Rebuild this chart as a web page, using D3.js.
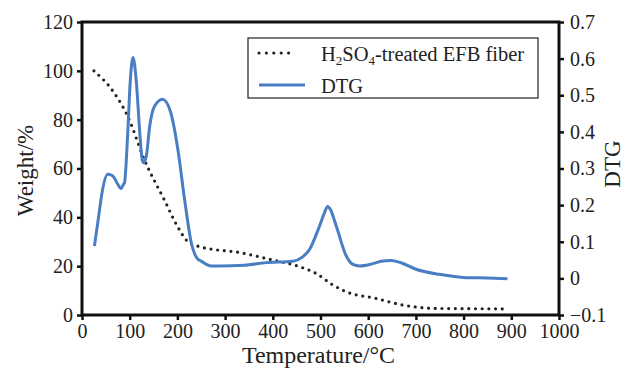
<!DOCTYPE html>
<html>
<head>
<meta charset="utf-8">
<script src="https://cdn.jsdelivr.net/npm/d3@7"></script>
<style>
body { margin: 0; background: #fff; }
svg text { font-family: "Liberation Serif", "Times New Roman", serif; fill: #222; }
</style>
</head>
<body>
<svg width="625" height="374"></svg>
<script>
// weight curve (TG)
var tgTemp = [25, 68, 96, 131, 173, 201, 222, 243, 285, 316, 400, 456, 491, 526, 554, 616, 672, 742, 800, 890];
var tgWeight = [100, 90.8, 81.3, 63.5, 47, 36, 30, 28.2, 26.6, 26, 22.5, 19.8, 17, 12.3, 9.5, 6.8, 4.1, 2.7, 2.6, 2.5];

// DTG curve
var dtgTemp = [26, 35, 42, 54, 64, 75, 82, 87, 89, 96, 101, 107, 114, 121, 126, 129, 135, 142, 152, 169, 186, 201, 215, 229, 243, 250, 271, 289, 340, 386, 442, 462, 477, 498, 508, 515, 520, 533, 554, 568, 582, 603, 617, 627, 648, 670, 700, 749, 805, 850, 892];
var dtgValue = [0.088, 0.17, 0.234, 0.284, 0.28, 0.257, 0.245, 0.257, 0.26, 0.40, 0.535, 0.603, 0.535, 0.40, 0.325, 0.316, 0.335, 0.416, 0.47, 0.489, 0.453, 0.352, 0.216, 0.098, 0.052, 0.047, 0.034, 0.034, 0.036, 0.043, 0.047, 0.058, 0.079, 0.143, 0.178, 0.196, 0.19, 0.143, 0.061, 0.038, 0.034, 0.038, 0.043, 0.047, 0.049, 0.042, 0.025, 0.011, 0.002, 0.001, -0.001];

var xTicks = [0, 100, 200, 300, 400, 500, 600, 700, 800, 900, 1000];
var yTicks = [0, 20, 40, 60, 80, 100, 120];
var y2Ticks = [-0.1, 0, 0.1, 0.2, 0.3, 0.4, 0.5, 0.6, 0.7];

var svg = d3.select("svg");
var mLeft = 82, mRight = 559, mTop = 22, mBottom = 315;
var blue = "#4a7ec3";

var x = d3.scaleLinear().domain([0, 1000]).range([mLeft, mRight]);
var y = d3.scaleLinear().domain([0, 120]).range([mBottom, mTop]);
var y2 = d3.scaleLinear().domain([-0.1, 0.7]).range([mBottom, mTop]);

var tg = tgTemp.map(function(t, i) { return [t, tgWeight[i]]; });
var dtg = dtgTemp.map(function(t, i) { return [t, dtgValue[i]]; });

svg.append("path")
.attr("d", d3.line().x(d => x(d[0])).y(d => y(d[1])).curve(d3.curveMonotoneX)(tg))
.attr("fill", "none")
.attr("stroke", "#222")
.attr("stroke-width", 3.2)
.attr("stroke-linecap", "round")
.attr("stroke-dasharray", "0 6.7");

svg.append("path")
.attr("d", d3.line().x(d => x(d[0])).y(d => y2(d[1])).curve(d3.curveMonotoneX)(dtg))
.attr("fill", "none")
.attr("stroke", blue)
.attr("stroke-width", 3)
.attr("stroke-linejoin", "round");

// axes
var xAxis = svg.append("g")
.attr("transform", "translate(0," + mBottom + ")")
.call(d3.axisBottom(x).tickValues(xTicks).tickSize(5).tickPadding(4).tickFormat(d3.format("d")));

var yAxis = svg.append("g")
.attr("transform", "translate(" + mLeft + ",0)")
.call(d3.axisLeft(y).tickValues(yTicks).tickSize(5).tickPadding(4));

var y2Axis = svg.append("g")
.attr("transform", "translate(" + mRight + ",0)")
.call(d3.axisRight(y2).tickValues(y2Ticks).tickSize(5).tickPadding(6)
  .tickFormat(function(d) { return d < 0 ? "\u22120.1" : (Math.abs(d) < 1e-9 ? "0" : d3.format(".1f")(d)); }));

[xAxis, yAxis, y2Axis].forEach(function(a) {
  a.select(".domain").remove();
  a.selectAll("line").attr("stroke", "#111").attr("stroke-width", 2.5);
  a.selectAll("text").attr("font-size", 20).style("font-family", "Liberation Serif").attr("fill", "#222");
});

// frame
svg.append("rect")
.attr("x", mLeft).attr("y", mTop)
.attr("width", mRight - mLeft).attr("height", mBottom - mTop)
.attr("fill", "none")
.attr("stroke", "#111")
.attr("stroke-width", 3);

// axis titles
svg.append("text")
.attr("x", (mLeft + mRight) / 2 - 2).attr("y", 363)
.attr("text-anchor", "middle")
.attr("font-size", 24)
.text("Temperature/\u00b0C");

svg.append("text")
.attr("transform", "translate(33," + ((mTop + mBottom) / 2 + 2) + ") rotate(-90)")
.attr("text-anchor", "middle")
.attr("font-size", 23)
.text("Weight/%");

svg.append("text")
.attr("transform", "translate(620,164) rotate(-90)")
.attr("text-anchor", "middle")
.attr("font-size", 23)
.text("DTG");

// legend
var lg = svg.append("g");
lg.append("rect")
.attr("x", 248).attr("y", 38)
.attr("width", 290).attr("height", 60)
.attr("fill", "#fff")
.attr("stroke", "#222")
.attr("stroke-width", 1.2);

lg.append("line")
.attr("x1", 259).attr("x2", 296).attr("y1", 53).attr("y2", 53)
.attr("stroke", "#222").attr("stroke-width", 3.2)
.attr("stroke-linecap", "round").attr("stroke-dasharray", "0 7.4");

lg.append("line")
.attr("x1", 259).attr("x2", 305).attr("y1", 85).attr("y2", 85)
.attr("stroke", blue).attr("stroke-width", 3);

var t1 = lg.append("text").attr("x", 321).attr("y", 61).attr("font-size", 20.5);
t1.append("tspan").text("H");
t1.append("tspan").attr("font-size", 13).attr("dy", 4).text("2");
t1.append("tspan").attr("dy", -4).text("SO");
t1.append("tspan").attr("font-size", 13).attr("dy", 4).text("4");
t1.append("tspan").attr("dy", -4).text("-treated EFB fiber");

lg.append("text").attr("x", 321).attr("y", 93).attr("font-size", 20.5).text("DTG");
</script>
</body>
</html>
